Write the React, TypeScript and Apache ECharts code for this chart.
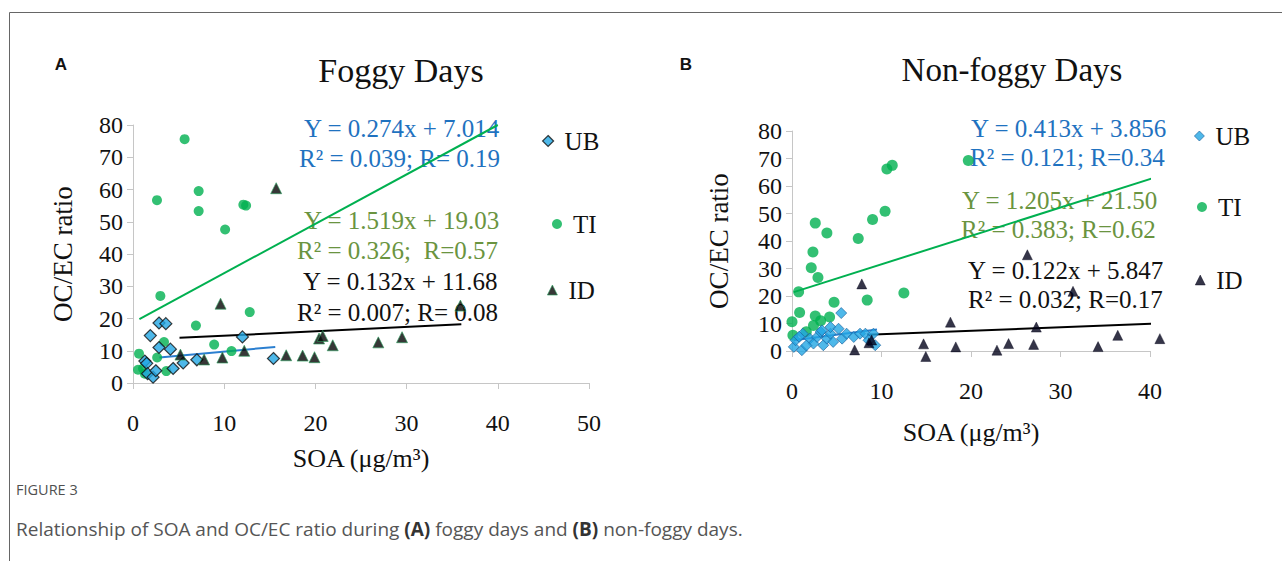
import React, { useEffect, useRef } from 'react';
import * as echarts from 'echarts';

// ---------- data ----------
const foggyUB: number[][] = [
  [1.3, 6.8], [1.5, 6.1], [1.6, 2.9], [2.2, 1.8], [2.5, 3.8], [1.9, 14.7], [2.85, 18.6], [3.6, 18.4],
  [2.85, 11.0], [4.1, 10.5], [4.4, 4.5], [5.5, 6.2], [7.0, 7.2], [12.0, 14.3], [15.4, 7.6],
];
const foggyTI: number[][] = [
  [0.66, 9.1], [0.55, 4.1], [1.1, 4.5], [1.3, 2.9], [2.63, 56.7], [2.65, 7.9], [3.0, 27.0], [3.4, 12.7],
  [3.65, 3.7], [5.66, 75.6], [6.9, 17.8], [7.2, 59.5], [7.2, 53.3], [8.9, 11.9], [10.1, 47.6],
  [10.8, 9.9], [12.1, 55.3], [12.4, 55.0], [12.8, 22.0],
];
const foggyID: number[][] = [
  [5.2, 8.8], [7.8, 7.3], [9.6, 24.6], [9.8, 7.9], [12.2, 10.0], [15.7, 60.4], [16.8, 8.6], [18.6, 8.5],
  [19.9, 8.0], [20.4, 13.8], [20.8, 14.6], [21.9, 11.7], [26.9, 12.6], [29.5, 14.2], [35.9, 24.0],
];
const nonFoggyUB: number[][] = [
  [0.2, 1.5], [0.4, 3.9], [1.1, 0.3], [1.2, 6.3], [2.0, 4.5], [2.4, 2.7], [2.8, 5.1], [3.2, 6.9],
  [3.35, 7.5], [3.5, 2.1], [3.9, 4.5], [4.3, 6.3], [4.3, 8.7], [4.6, 3.3], [5.2, 8.1], [5.5, 13.8],
  [5.6, 4.5], [6.1, 6.3], [6.9, 5.1], [7.6, 6.3], [8.2, 6.3], [8.55, 3.9], [9.1, 6.3], [9.3, 2.1],
  [1.6, 2.0], [0.8, 5.2],
];
const nonFoggyTI: number[][] = [
  [0.0, 10.6], [0.1, 5.7], [0.74, 21.5], [0.85, 14.0], [2.4, 9.3], [2.6, 12.7], [2.9, 26.7], [2.15, 30.3],
  [2.34, 36.0], [2.6, 46.5], [3.9, 42.9], [4.2, 12.4], [4.7, 17.7], [7.4, 40.9], [8.4, 18.5], [9.0, 47.8],
  [10.4, 50.8], [10.6, 66.2], [11.2, 67.5], [12.5, 21.1], [19.7, 69.3], [1.6, 7.0], [3.2, 11.0],
];
const nonFoggyID: number[][] = [
  [7.0, 0.4], [7.8, 24.4], [8.6, 3.0], [8.9, 4.0], [14.7, 2.6], [14.95, -2.0], [17.7, 10.5], [18.3, 1.5],
  [22.9, 0.3], [24.2, 2.7], [26.3, 35.0], [27.0, 2.4], [27.3, 8.7], [31.4, 21.7], [34.2, 1.6], [36.4, 5.7],
  [41.1, 4.5],
];

// trend lines (end points as drawn in the reference)
const foggyUBTrend: number[][] = [[2.9, 7.9], [15.6, 11.2]];
const foggyTITrend: number[][] = [[0.7, 19.8], [40, 80]];
const foggyIDTrend: number[][] = [[5.1, 14.0], [36, 18.2]];
const nonFoggyUBTrend: number[][] = [[0.2, 3.9], [9.5, 7.8]];
const nonFoggyTITrend: number[][] = [[0.2, 21.4], [41.9, 64.5]];
const nonFoggyIDTrend: number[][] = [[8.4, 5.9], [41.1, 10.0]];

// equation labels
const foggyEquations = [
  'Y = 0.274x + 7.014', 'R² = 0.039; R= 0.19',
  'Y = 1.519x + 19.03', 'R² = 0.326;  R=0.57',
  'Y = 0.132x + 11.68', 'R² = 0.007; R= 0.08',
];
const nonFoggyEquations = [
  'Y = 0.413x + 3.856', 'R² = 0.121; R=0.34',
  'Y = 1.205x + 21.50', 'R² = 0.383; R=0.62',
  'Y = 0.122x + 5.847', 'R² = 0.032; R=0.17',
];
const siteNames = ['UB', 'TI', 'ID'];
const panelTitles = ['Foggy Days', 'Non-foggy Days'];
const panelLetters = ['A', 'B'];
const axisNameX = 'SOA (μg/m³)';
const axisNameY = 'OC/EC ratio';
const figureLabel = 'FIGURE 3';

// ---------- styles ----------
const SERIF = "'Times New Roman', 'Liberation Serif', 'DejaVu Serif', serif";
const SANS = "'Open Sans', 'Liberation Sans', Arial, sans-serif";
const GREEN = '#00B050';
const BLUE = '#22A6E3';
const AXIS_COLOR = '#c6c6c6';
const EQ_COLORS = ['#1F72C0', '#1F72C0', '#6A9440', '#6A9440', '#111111', '#111111'];

export default function App() {
  const ref = useRef<HTMLDivElement>(null);

  useEffect(() => {
    if (!ref.current) return;
    const chart = echarts.init(ref.current, null, { renderer: 'svg' });

    const xAxis = (gi: number, max: number, gap: number) => ({
      gridIndex: gi, type: 'value', min: 0, max, interval: 10,
      name: axisNameX, nameLocation: 'middle', nameGap: gap,
      nameTextStyle: { fontFamily: SERIF, fontSize: 26, color: '#111' },
      axisLine: { show: true, onZero: false, lineStyle: { color: AXIS_COLOR, width: 1 } },
      axisTick: { show: true, inside: false, length: 6, lineStyle: { color: AXIS_COLOR } },
      axisLabel: { margin: 28, fontFamily: SERIF, fontSize: 24, color: '#111' },
      splitLine: { show: false },
    });
    const yAxis = (gi: number, gap: number) => ({
      gridIndex: gi, type: 'value', min: 0, max: 80, interval: 10,
      name: axisNameY, nameLocation: 'middle', nameGap: gap,
      nameTextStyle: { fontFamily: SERIF, fontSize: 27, color: '#111' },
      axisLine: { show: true, onZero: false, lineStyle: { color: AXIS_COLOR, width: 1 } },
      axisTick: { show: true, inside: false, length: 6, lineStyle: { color: AXIS_COLOR } },
      axisLabel: { margin: 10, fontFamily: SERIF, fontSize: 24, color: '#111' },
      splitLine: { show: false },
    });

    const scatter = (name: string, data: number[][], gi: number, symbol: string, size: number, itemStyle: any) => ({
      type: 'scatter', name, data, xAxisIndex: gi, yAxisIndex: gi, symbol, symbolSize: size,
      itemStyle, clip: false, z: 3,
    });
    const trend = (name: string, data: number[][], gi: number, color: string) => ({
      type: 'line', name, data, xAxisIndex: gi, yAxisIndex: gi, showSymbol: false, symbol: 'none',
      lineStyle: { color, width: 2 }, clip: false, z: 2, silent: true,
    });

    const ubLeftStyle = { color: BLUE, borderColor: '#111', borderWidth: 1.2 };
    const tiStyle = { color: GREEN };
    const idLeftStyle = { color: '#050505', borderColor: '#2E9E5E', borderWidth: 0.8 };
    const ubRightStyle = { color: BLUE, borderColor: '#1d5f9a', borderWidth: 0.8 };
    const idRightStyle = { color: '#02021a', borderColor: '#02021a', borderWidth: 0.5 };

    const legendTexts = { fontFamily: SERIF, fontSize: 25, color: '#111', lineHeight: 26, padding: [0, 0, 0, 6] };
    const legend = (name: string, icon: string, left: number, top: number, itemStyle: any, size = 10) => ({
      data: [{ name, icon, itemStyle }], left, top, orient: 'horizontal', padding: 0, itemGap: 0,
      itemWidth: size, itemHeight: size, textStyle: legendTexts, selectedMode: false,
    });

    const eqText = (lines: string[], xs: number[], ys: number[]) =>
      lines.map((t, i) => ({
        type: 'text', x: xs[i], y: ys[i], silent: true,
        style: {
          text: t, fill: EQ_COLORS[i], fontFamily: SERIF, fontSize: 25,
          textAlign: 'left', textVerticalAlign: 'middle', align: 'left', verticalAlign: 'middle',
        },
      }));

    const centerText = (t: string, x: number, y: number, font: any) => ({
      type: 'text', x, y, silent: true,
      style: { text: t, textAlign: 'center', textVerticalAlign: 'middle', align: 'center', verticalAlign: 'middle', ...font },
    });

    const option: any = {
      animation: false,
      backgroundColor: '#ffffff',
      grid: [
        { left: 133, top: 125, width: 456, height: 258 },
        { left: 792, top: 131, width: 358, height: 220 },
      ],
      xAxis: [xAxis(0, 50, 62), xAxis(1, 40, 68)],
      yAxis: [yAxis(0, 57), yAxis(1, 60)],
      legend: [
        legend(siteNames[0], 'diamond', 542, 128, ubLeftStyle, 11),
        legend(siteNames[1], 'circle', 552, 211, tiStyle),
        legend(siteNames[2], 'triangle', 547, 277, idLeftStyle),
        legend(siteNames[0], 'diamond', 1194, 123, ubRightStyle),
        legend(siteNames[1], 'circle', 1197, 194, tiStyle),
        legend(siteNames[2], 'triangle', 1195, 267, idRightStyle),
      ],
      series: [
        trend('UB trend A', foggyUBTrend, 0, '#2B7FD0'),
        trend('TI trend A', foggyTITrend, 0, GREEN),
        trend('ID trend A', foggyIDTrend, 0, '#000'),
        scatter(siteNames[1], foggyTI, 0, 'circle', 10, tiStyle),
        scatter(siteNames[0], foggyUB, 0, 'diamond', 12, ubLeftStyle),
        scatter(siteNames[2], foggyID, 0, 'triangle', 11, idLeftStyle),
        trend('UB trend B', nonFoggyUBTrend, 1, '#2B7FD0'),
        trend('TI trend B', nonFoggyTITrend, 1, GREEN),
        trend('ID trend B', nonFoggyIDTrend, 1, '#000'),
        scatter(siteNames[1], nonFoggyTI, 1, 'circle', 11, tiStyle),
        scatter(siteNames[0], nonFoggyUB, 1, 'diamond', 11, ubRightStyle),
        scatter(siteNames[2], nonFoggyID, 1, 'triangle', 10, idRightStyle),
      ],
      graphic: [
        { type: 'line', silent: true, shape: { x1: 9.5, y1: 12.5, x2: 1282, y2: 12.5 }, style: { stroke: '#666', lineWidth: 1 } },
        { type: 'line', silent: true, shape: { x1: 9.5, y1: 12.5, x2: 9.5, y2: 561 }, style: { stroke: '#666', lineWidth: 1 } },
        centerText(panelLetters[0], 61, 64, { fill: '#111', fontFamily: "'Liberation Sans', Arial, sans-serif", fontSize: 17, fontWeight: 'bold' }),
        centerText(panelLetters[1], 686, 64, { fill: '#111', fontFamily: "'Liberation Sans', Arial, sans-serif", fontSize: 17, fontWeight: 'bold' }),
        centerText(panelTitles[0], 401, 70, { fill: '#111', fontFamily: SERIF, fontSize: 34 }),
        centerText(panelTitles[1], 1012, 70, { fill: '#111', fontFamily: SERIF, fontSize: 33 }),
        ...eqText(foggyEquations, [304, 299, 304, 297, 303, 297], [128, 158, 220, 250, 281, 312]),
        ...eqText(nonFoggyEquations, [971, 970, 962, 961, 968, 968], [128, 157, 200, 229, 270, 299]),
        {
          type: 'text', x: 16, y: 489, silent: true,
          style: { text: figureLabel, fill: '#505050', fontFamily: SANS, fontSize: 14.5, textVerticalAlign: 'middle', verticalAlign: 'middle' },
        },
        {
          type: 'text', x: 16, y: 529, silent: true,
          style: {
            text: '{n|Relationship of SOA and OC/EC ratio during }{b|(A)}{n| foggy days and }{b|(B)}{n| non-foggy days.}',
            textVerticalAlign: 'middle', verticalAlign: 'middle',
            rich: {
              n: { fontFamily: SANS, fontSize: 19, fill: '#555', color: '#555' },
              b: { fontFamily: SANS, fontSize: 19, fontWeight: 'bold', fill: '#333', color: '#333' },
            },
          },
        },
      ],
    };

    chart.setOption(option);
    return () => chart.dispose();
  }, []);

  return (
    <div
      ref={ref}
      style={{ position: 'absolute', left: 0, top: 0, width: 1282, height: 561, background: '#fff' }}
    />
  );
}
